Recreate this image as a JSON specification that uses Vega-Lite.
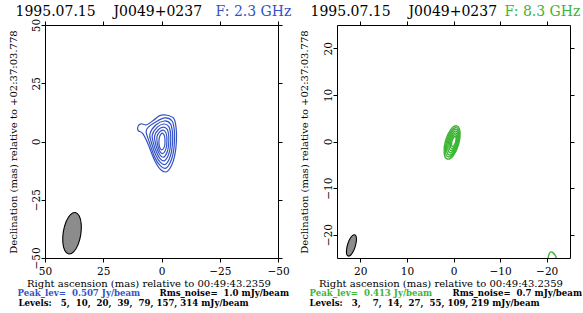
{
  "$schema": "https://vega.github.io/schema/vega-lite/v6.json",
  "background": "white",
  "padding": {"left": 7, "top": 4, "right": 0, "bottom": 0},
  "bounds": "flush",
  "spacing": 59,
  "config": {
    "view": {"stroke": null},
    "font": "DejaVu Serif",
    "axis": {
      "labelFont": "DejaVu Serif", "titleFont": "DejaVu Serif",
      "labelFontSize": 10.5, "titleFontSize": 10, "titleFontWeight": "normal",
      "labelColor": "black", "titleColor": "black", "domainColor": "black", "tickColor": "black",
      "tickSize": 4, "grid": false, "labelFlush": false, "labelOverlap": false, "labelBound": false
    }
  },
  "datasets": {
    "blue": [
      {"c":1,"i":0,"x":-1.6,"y":11.4},{"c":1,"i":1,"x":-5.2,"y":10.0},{"c":1,"i":2,"x":-6.3,"y":5.5},{"c":1,"i":3,"x":-6.4,"y":0.0},{"c":1,"i":4,"x":-5.7,"y":-6.0},{"c":1,"i":5,"x":-4.3,"y":-10.3},{"c":1,"i":6,"x":-2.2,"y":-13.0},{"c":1,"i":7,"x":0.4,"y":-12.0},{"c":1,"i":8,"x":3.0,"y":-8.0},{"c":1,"i":9,"x":6.0,"y":-0.5},{"c":1,"i":10,"x":8.1,"y":3.5},{"c":1,"i":11,"x":10.0,"y":4.7},{"c":1,"i":12,"x":10.1,"y":6.5},{"c":1,"i":13,"x":8.8,"y":7.6},{"c":1,"i":14,"x":6.3,"y":7.2},{"c":1,"i":15,"x":3.3,"y":9.2},{"c":1,"i":16,"x":1.0,"y":11.0},
      {"c":2,"i":0,"x":-1.4,"y":10.1},{"c":2,"i":1,"x":-4.52,"y":8.8},{"c":2,"i":2,"x":-5.49,"y":4.82},{"c":2,"i":3,"x":-5.58,"y":0},{"c":2,"i":4,"x":-4.98,"y":-5.25},{"c":2,"i":5,"x":-3.75,"y":-9.05},{"c":2,"i":6,"x":-1.87,"y":-11.43},{"c":2,"i":7,"x":0.43,"y":-10.48},{"c":2,"i":8,"x":2.83,"y":-6.92},{"c":2,"i":9,"x":5.18,"y":-0.42},{"c":2,"i":10,"x":6.6,"y":4.3},{"c":2,"i":11,"x":5.4,"y":6.4},{"c":2,"i":12,"x":2.8,"y":8.18},
      {"c":3,"i":0,"x":-1.2,"y":8.8},{"c":3,"i":1,"x":-3.83,"y":7.6},{"c":3,"i":2,"x":-4.68,"y":4.13},{"c":3,"i":3,"x":-4.77,"y":0},{"c":3,"i":4,"x":-4.27,"y":-4.5},{"c":3,"i":5,"x":-3.2,"y":-7.8},{"c":3,"i":6,"x":-1.53,"y":-9.87},{"c":3,"i":7,"x":0.47,"y":-8.97},{"c":3,"i":8,"x":2.47,"y":-5.83},{"c":3,"i":9,"x":4.37,"y":-0.33},{"c":3,"i":10,"x":4.97,"y":3.27},{"c":3,"i":11,"x":2.3,"y":7.17},
      {"c":4,"i":0,"x":-1.0,"y":7.5},{"c":4,"i":1,"x":-3.15,"y":6.4},{"c":4,"i":2,"x":-3.88,"y":3.45},{"c":4,"i":3,"x":-3.95,"y":0},{"c":4,"i":4,"x":-3.55,"y":-3.75},{"c":4,"i":5,"x":-2.65,"y":-6.55},{"c":4,"i":6,"x":-1.2,"y":-8.3},{"c":4,"i":7,"x":0.5,"y":-7.45},{"c":4,"i":8,"x":2.1,"y":-4.75},{"c":4,"i":9,"x":3.55,"y":-0.25},{"c":4,"i":10,"x":3.95,"y":2.9},{"c":4,"i":11,"x":1.8,"y":6.15},
      {"c":5,"i":0,"x":-0.8,"y":6.2},{"c":5,"i":1,"x":-2.47,"y":5.2},{"c":5,"i":2,"x":-3.07,"y":2.77},{"c":5,"i":3,"x":-3.13,"y":0},{"c":5,"i":4,"x":-2.83,"y":-3.0},{"c":5,"i":5,"x":-2.1,"y":-5.3},{"c":5,"i":6,"x":-0.87,"y":-6.73},{"c":5,"i":7,"x":0.53,"y":-5.93},{"c":5,"i":8,"x":1.73,"y":-3.67},{"c":5,"i":9,"x":2.73,"y":-0.17},{"c":5,"i":10,"x":2.93,"y":2.53},{"c":5,"i":11,"x":1.3,"y":5.13},
      {"c":6,"i":0,"x":-0.6,"y":4.9},{"c":6,"i":1,"x":-1.78,"y":4.0},{"c":6,"i":2,"x":-2.26,"y":2.08},{"c":6,"i":3,"x":-2.32,"y":0},{"c":6,"i":4,"x":-2.12,"y":-2.25},{"c":6,"i":5,"x":-1.55,"y":-4.05},{"c":6,"i":6,"x":-0.53,"y":-5.17},{"c":6,"i":7,"x":0.57,"y":-4.42},{"c":6,"i":8,"x":1.37,"y":-2.58},{"c":6,"i":9,"x":1.92,"y":-0.08},{"c":6,"i":10,"x":1.92,"y":2.17},{"c":6,"i":11,"x":0.8,"y":4.12},
      {"c":7,"i":0,"x":-0.4,"y":3.6},{"c":7,"i":1,"x":-1.1,"y":2.8},{"c":7,"i":2,"x":-1.45,"y":1.4},{"c":7,"i":3,"x":-1.5,"y":0},{"c":7,"i":4,"x":-1.4,"y":-1.5},{"c":7,"i":5,"x":-1.0,"y":-2.8},{"c":7,"i":6,"x":-0.2,"y":-3.6},{"c":7,"i":7,"x":0.6,"y":-2.9},{"c":7,"i":8,"x":1.0,"y":-1.5},{"c":7,"i":9,"x":1.1,"y":0},{"c":7,"i":10,"x":0.9,"y":1.8},{"c":7,"i":11,"x":0.3,"y":3.1}
    ],
    "blueBeam": [
      {"i":0,"x":37.0,"y":-30.5},{"i":1,"x":39.06,"y":-31.4},{"i":2,"x":40.95,"y":-34.44},{"i":3,"x":42.15,"y":-38.81},{"i":4,"x":42.35,"y":-43.34},{"i":5,"x":41.5,"y":-46.8},{"i":6,"x":39.8,"y":-48.29},{"i":7,"x":37.74,"y":-47.4},{"i":8,"x":35.85,"y":-44.36},{"i":9,"x":34.65,"y":-39.99},{"i":10,"x":34.45,"y":-35.46},{"i":11,"x":35.3,"y":-32.0}
    ],
    "green": [
      {"c":1,"i":0,"x":-0.721,"y":3.356},{"c":1,"i":1,"x":0.563,"y":2.597},{"c":1,"i":2,"x":1.693,"y":0.2},{"c":1,"i":3,"x":2.007,"y":-2.431},{"c":1,"i":4,"x":1.321,"y":-3.756},{"c":1,"i":5,"x":0.037,"y":-2.997},{"c":1,"i":6,"x":-1.093,"y":-0.6},{"c":1,"i":7,"x":-1.407,"y":2.031},
      {"c":2,"i":0,"x":-0.665,"y":2.975},{"c":2,"i":1,"x":0.466,"y":2.303},{"c":2,"i":2,"x":1.463,"y":0.185},{"c":2,"i":3,"x":1.742,"y":-2.14},{"c":2,"i":4,"x":1.141,"y":-3.309},{"c":2,"i":5,"x":0.01,"y":-2.637},{"c":2,"i":6,"x":-0.987,"y":-0.519},{"c":2,"i":7,"x":-1.266,"y":1.806},
      {"c":3,"i":0,"x":-0.608,"y":2.595},{"c":3,"i":1,"x":0.369,"y":2.01},{"c":3,"i":2,"x":1.233,"y":0.17},{"c":3,"i":3,"x":1.478,"y":-1.848},{"c":3,"i":4,"x":0.96,"y":-2.863},{"c":3,"i":5,"x":-0.017,"y":-2.278},{"c":3,"i":6,"x":-0.881,"y":-0.438},{"c":3,"i":7,"x":-1.126,"y":1.58},
      {"c":4,"i":0,"x":-0.551,"y":2.215},{"c":4,"i":1,"x":0.272,"y":1.717},{"c":4,"i":2,"x":1.003,"y":0.154},{"c":4,"i":3,"x":1.213,"y":-1.558},{"c":4,"i":4,"x":0.779,"y":-2.417},{"c":4,"i":5,"x":-0.044,"y":-1.919},{"c":4,"i":6,"x":-0.775,"y":-0.356},{"c":4,"i":7,"x":-0.985,"y":1.356},
      {"c":5,"i":0,"x":-0.494,"y":1.835},{"c":5,"i":1,"x":0.176,"y":1.424},{"c":5,"i":2,"x":0.773,"y":0.139},{"c":5,"i":3,"x":0.948,"y":-1.267},{"c":5,"i":4,"x":0.598,"y":-1.971},{"c":5,"i":5,"x":-0.072,"y":-1.56},{"c":5,"i":6,"x":-0.669,"y":-0.275},{"c":5,"i":7,"x":-0.844,"y":1.131},
      {"c":6,"i":0,"x":-0.438,"y":1.455},{"c":6,"i":1,"x":0.078,"y":1.131},{"c":6,"i":2,"x":0.543,"y":0.124},{"c":6,"i":3,"x":0.684,"y":-0.976},{"c":6,"i":4,"x":0.418,"y":-1.525},{"c":6,"i":5,"x":-0.098,"y":-1.201},{"c":6,"i":6,"x":-0.563,"y":-0.194},{"c":6,"i":7,"x":-0.704,"y":0.906},
      {"c":7,"i":0,"x":-0.381,"y":1.074},{"c":7,"i":1,"x":-0.019,"y":0.837},{"c":7,"i":2,"x":0.312,"y":0.108},{"c":7,"i":3,"x":0.418,"y":-0.685},{"c":7,"i":4,"x":0.237,"y":-1.078},{"c":7,"i":5,"x":-0.125,"y":-0.841},{"c":7,"i":6,"x":-0.456,"y":-0.112},{"c":7,"i":7,"x":-0.562,"y":0.681},
      {"c":8,"i":0,"x":-20.3,"y":-25.5},{"c":8,"i":1,"x":-20.5,"y":-24.2},{"c":8,"i":2,"x":-20.9,"y":-23.7},{"c":8,"i":3,"x":-21.4,"y":-23.9},{"c":8,"i":4,"x":-21.9,"y":-24.6},{"c":8,"i":5,"x":-22.2,"y":-25.6},{"c":8,"i":6,"x":-21.8,"y":-26.8},{"c":8,"i":7,"x":-20.8,"y":-26.8}
    ],
    "greenBeam": [
      {"i":0,"x":21.2,"y":-20.01},{"i":1,"x":21.7,"y":-20.19},{"i":2,"x":22.25,"y":-20.94},{"i":3,"x":22.71,"y":-22.05},{"i":4,"x":22.95,"y":-23.24},{"i":5,"x":22.92,"y":-24.17},{"i":6,"x":22.6,"y":-24.59},{"i":7,"x":22.1,"y":-24.41},{"i":8,"x":21.55,"y":-23.66},{"i":9,"x":21.09,"y":-22.55},{"i":10,"x":20.85,"y":-21.36},{"i":11,"x":20.88,"y":-20.43}
    ]
  },
  "hconcat": [
    {
      "width": 233, "height": 233,
      "resolve": {"axis": {"x": "independent", "y": "independent"}},
      "layer": [
        {
          "data": {"name": "blue"},
          "transform": [{"filter": "datum.c <= 3"}],
          "mark": {"type": "line", "interpolate": "cardinal-closed", "stroke": "#3352c6", "strokeWidth": 1.2, "clip": true},
          "encoding": {
            "x": {"field": "x", "type": "quantitative", "scale": {"domain": [-50, 50], "reverse": true, "nice": false, "zero": false},
              "axis": {"orient": "bottom", "values": [-50, -25, 0, 25, 50], "labelPadding": 4, "title": "Right ascension (mas) relative to 00:49:43.2359", "titleX": 103.5, "titleY": 28, "titleAlign": "center", "titleBaseline": "alphabetic"}},
            "y": {"field": "y", "type": "quantitative", "scale": {"domain": [-50, 50], "nice": false, "zero": false},
              "axis": {"orient": "left", "values": [-50, -25, 0, 25, 50], "labelAngle": 270, "labelAlign": "center", "labelBaseline": "alphabetic", "labelPadding": 2, "title": "Declination (mas) relative to +02:37:03.778", "titleAngle": 270, "titleX": -29, "titleY": 116.5, "titleAlign": "center", "titleBaseline": "alphabetic"}},
            "detail": {"field": "c"},
            "order": {"field": "i"}
          }
        },
        {
          "data": {"name": "blue"},
          "transform": [{"filter": "datum.c >= 4"}],
          "mark": {"type": "line", "interpolate": "cardinal-closed", "stroke": "#3352c6", "strokeWidth": 1.2, "clip": true},
          "encoding": {
            "x": {"field": "x", "type": "quantitative", "scale": {"domain": [-50, 50], "reverse": true, "nice": false, "zero": false},
              "axis": {"orient": "top", "values": [-50, -25, 0, 25, 50], "labels": false, "title": "1995.07.15\u00a0\u00a0\u00a0\u00a0J0049+0237", "titleX": -30, "titleY": -10, "titleAlign": "left", "titleBaseline": "alphabetic", "titleFontSize": 14}},
            "y": {"field": "y", "type": "quantitative", "scale": {"domain": [-50, 50], "nice": false, "zero": false},
              "axis": {"orient": "right", "values": [-50, -25, 0, 25, 50], "labels": false, "title": "F: 2.3 GHz", "titleAngle": 0, "titleX": -63, "titleY": -10, "titleAlign": "left", "titleBaseline": "alphabetic", "titleFontSize": 14, "titleColor": "#3352c6"}},
            "detail": {"field": "c"},
            "order": {"field": "i"}
          }
        },
        {
          "data": {"name": "blueBeam"},
          "mark": {"type": "line", "interpolate": "cardinal-closed", "fill": "#8c8c8c", "strokeOpacity": 0, "clip": true},
          "encoding": {
            "x": {"field": "x", "type": "quantitative", "scale": {"domain": [-50, 50], "reverse": true, "nice": false, "zero": false},
              "axis": {"orient": "bottom", "domain": false, "ticks": false, "labels": false, "title": "Peak_lev=\u00a0\u00a00.507 Jy/beam", "titleX": -28, "titleY": 37, "titleAlign": "left", "titleBaseline": "alphabetic", "titleFontSize": 8.6, "titleFontWeight": "bold", "titleColor": "#3352c6"}},
            "y": {"field": "y", "type": "quantitative", "scale": {"domain": [-50, 50], "nice": false, "zero": false},
              "axis": {"orient": "left", "domain": false, "ticks": false, "labels": false, "title": "Rms_noise=\u00a0\u00a01.0 mJy/beam", "titleAngle": 0, "titleX": 114, "titleY": 270, "titleAlign": "left", "titleBaseline": "alphabetic", "titleFontSize": 8.6, "titleFontWeight": "bold"}},
            "order": {"field": "i"}
          }
        },
        {
          "data": {"name": "blueBeam"},
          "mark": {"type": "line", "interpolate": "cardinal-closed", "stroke": "black", "strokeWidth": 1.1, "clip": true},
          "encoding": {
            "x": {"field": "x", "type": "quantitative", "scale": {"domain": [-50, 50], "reverse": true, "nice": false, "zero": false},
              "axis": {"orient": "bottom", "domain": false, "ticks": false, "labels": false, "title": "Levels:\u00a0\u00a0\u00a05,\u00a0\u00a010,\u00a0\u00a020,\u00a0\u00a039,\u00a0\u00a079,\u00a0157,\u00a0314 mJy/beam", "titleX": -27, "titleY": 47.5, "titleAlign": "left", "titleBaseline": "alphabetic", "titleFontSize": 8.6, "titleFontWeight": "bold"}},
            "y": {"field": "y", "type": "quantitative", "scale": {"domain": [-50, 50], "nice": false, "zero": false}, "axis": null},
            "order": {"field": "i"}
          }
        }
      ]
    },
    {
      "width": 233, "height": 233,
      "resolve": {"axis": {"x": "independent", "y": "independent"}},
      "layer": [
        {
          "data": {"name": "green"},
          "transform": [{"filter": "datum.c <= 3"}],
          "mark": {"type": "line", "interpolate": "cardinal-closed", "stroke": "#3db535", "strokeWidth": 1.4, "clip": true},
          "encoding": {
            "x": {"field": "x", "type": "quantitative", "scale": {"domain": [-25, 25], "reverse": true, "nice": false, "zero": false},
              "axis": {"orient": "bottom", "values": [-20, -10, 0, 10, 20], "labelPadding": 4, "title": "Right ascension (mas) relative to 00:49:43.2359", "titleX": 103.5, "titleY": 28, "titleAlign": "center", "titleBaseline": "alphabetic"}},
            "y": {"field": "y", "type": "quantitative", "scale": {"domain": [-25, 25], "nice": false, "zero": false},
              "axis": {"orient": "left", "values": [-20, -10, 0, 10, 20], "labelAngle": 270, "labelAlign": "center", "labelBaseline": "alphabetic", "labelPadding": 2, "title": "Declination (mas) relative to +02:37:03.778", "titleAngle": 270, "titleX": -30, "titleY": 116.5, "titleAlign": "center", "titleBaseline": "alphabetic"}},
            "detail": {"field": "c"},
            "order": {"field": "i"}
          }
        },
        {
          "data": {"name": "green"},
          "transform": [{"filter": "datum.c >= 4"}],
          "mark": {"type": "line", "interpolate": "cardinal-closed", "stroke": "#3db535", "strokeWidth": 1.4, "clip": true},
          "encoding": {
            "x": {"field": "x", "type": "quantitative", "scale": {"domain": [-25, 25], "reverse": true, "nice": false, "zero": false},
              "axis": {"orient": "top", "values": [-20, -10, 0, 10, 20], "labels": false, "title": "1995.07.15\u00a0\u00a0\u00a0\u00a0J0049+0237", "titleX": -27, "titleY": -10, "titleAlign": "left", "titleBaseline": "alphabetic", "titleFontSize": 14}},
            "y": {"field": "y", "type": "quantitative", "scale": {"domain": [-25, 25], "nice": false, "zero": false},
              "axis": {"orient": "right", "values": [-20, -10, 0, 10, 20], "labels": false, "title": "F: 8.3 GHz", "titleAngle": 0, "titleX": -66, "titleY": -10, "titleAlign": "left", "titleBaseline": "alphabetic", "titleFontSize": 14, "titleColor": "#3db535"}},
            "detail": {"field": "c"},
            "order": {"field": "i"}
          }
        },
        {
          "data": {"name": "greenBeam"},
          "mark": {"type": "line", "interpolate": "cardinal-closed", "fill": "#8c8c8c", "strokeOpacity": 0, "clip": true},
          "encoding": {
            "x": {"field": "x", "type": "quantitative", "scale": {"domain": [-25, 25], "reverse": true, "nice": false, "zero": false},
              "axis": {"orient": "bottom", "domain": false, "ticks": false, "labels": false, "title": "Peak_lev=\u00a0\u00a00.413 Jy/beam", "titleX": -28, "titleY": 37, "titleAlign": "left", "titleBaseline": "alphabetic", "titleFontSize": 8.6, "titleFontWeight": "bold", "titleColor": "#3db535"}},
            "y": {"field": "y", "type": "quantitative", "scale": {"domain": [-25, 25], "nice": false, "zero": false},
              "axis": {"orient": "left", "domain": false, "ticks": false, "labels": false, "title": "Rms_noise=\u00a0\u00a00.7 mJy/beam", "titleAngle": 0, "titleX": 115, "titleY": 270, "titleAlign": "left", "titleBaseline": "alphabetic", "titleFontSize": 8.6, "titleFontWeight": "bold"}},
            "order": {"field": "i"}
          }
        },
        {
          "data": {"name": "greenBeam"},
          "mark": {"type": "line", "interpolate": "cardinal-closed", "stroke": "black", "strokeWidth": 1.1, "clip": true},
          "encoding": {
            "x": {"field": "x", "type": "quantitative", "scale": {"domain": [-25, 25], "reverse": true, "nice": false, "zero": false},
              "axis": {"orient": "bottom", "domain": false, "ticks": false, "labels": false, "title": "Levels:\u00a0\u00a0\u00a03,\u00a0\u00a0\u00a0\u00a07,\u00a0\u00a014,\u00a0\u00a027,\u00a0\u00a055,\u00a0109,\u00a0219 mJy/beam", "titleX": -28, "titleY": 47.5, "titleAlign": "left", "titleBaseline": "alphabetic", "titleFontSize": 8.6, "titleFontWeight": "bold"}},
            "y": {"field": "y", "type": "quantitative", "scale": {"domain": [-25, 25], "nice": false, "zero": false}, "axis": null},
            "order": {"field": "i"}
          }
        }
      ]
    }
  ]
}
